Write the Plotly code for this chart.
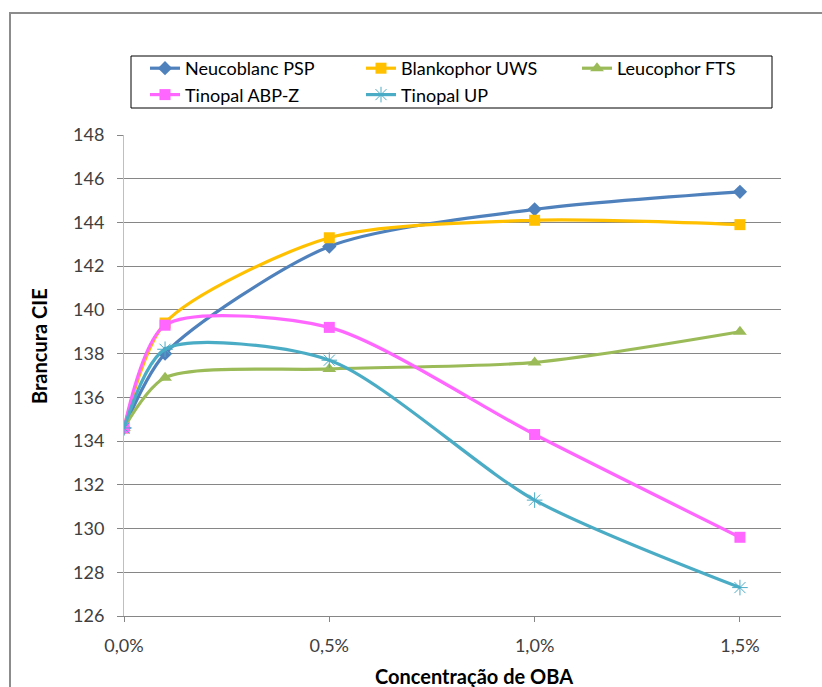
import plotly.graph_objects as go

x_conc = [0.0, 0.1, 0.5, 1.0, 1.5]
neucoblanc_psp = [134.6, 138.0, 142.9, 144.6, 145.4]
blankophor_uws = [134.6, 139.4, 143.3, 144.1, 143.9]
leucophor_fts = [134.6, 136.9, 137.3, 137.6, 139.0]
tinopal_abpz = [134.6, 139.3, 139.2, 134.3, 129.6]
tinopal_up = [134.6, 138.2, 137.7, 131.3, 127.3]

x_tickvals = [0.0, 0.5, 1.0, 1.5]
x_ticktext = ["0,0%", "0,5%", "1,0%", "1,5%"]
y_tickvals = list(range(126, 149, 2))

series = [
    ("Neucoblanc PSP", neucoblanc_psp, "#4F81BD", "diamond", 11, 0),
    ("Blankophor UWS", blankophor_uws, "#FFC000", "square", 11, 0),
    ("Leucophor FTS", leucophor_fts, "#9BBB59", "triangle-up", 12, 0),
    ("Tinopal ABP-Z", tinopal_abpz, "#FF66FF", "square", 11, 0),
    ("Tinopal UP", tinopal_up, "#4BACC6", "asterisk-open", 13, 1),
]

fig = go.Figure()
for name, vals, color, sym, size, mlw in series:
    fig.add_trace(go.Scatter(
        x=x_conc, y=vals, name=name, mode="lines+markers",
        line=dict(color=color, width=3.2, shape="spline", smoothing=0.75),
        marker=dict(symbol=sym, size=size, color=color,
                    line=dict(color=color, width=mlw)),
    ))

W, H = 822, 687
L, R, T, B = 124, 41, 135, 71
pw = W - L - R
ph = H - T - B

def px(p):
    return (p - L) / pw

def py(p):
    return (H - B - p) / ph

font_family = "Lato, 'Open Sans', sans-serif"

fig.update_layout(
    width=W, height=H,
    margin=dict(l=L, r=R, t=T, b=B, autoexpand=False),
    paper_bgcolor="white", plot_bgcolor="white",
    font=dict(family=font_family, color="#404040", size=15),
    showlegend=True,
    legend=dict(
        orientation="h", x=px(145), y=py(50), xanchor="left", yanchor="top",
        entrywidth=171, entrywidthmode="pixels",
        font=dict(size=18, color="#000000", family=font_family),
        bgcolor="rgba(0,0,0,0)", borderwidth=0, traceorder="normal",
    ),
    xaxis=dict(
        range=[0, 1.6], tickvals=x_tickvals, ticktext=x_ticktext,
        showgrid=False, zeroline=False, showline=True, linecolor="#868686", linewidth=1,
        ticks="outside", ticklen=5, tickcolor="#868686", ticklabelstandoff=8,
        tickfont=dict(size=18, color="#404040"),
    ),
    yaxis=dict(
        range=[126, 148], tickvals=y_tickvals,
        showgrid=True, gridcolor="#868686", gridwidth=1, zeroline=False,
        showline=True, linecolor="#BFBFBF", linewidth=1,
        ticks="outside", ticklen=6, tickcolor="#868686", ticklabelstandoff=9,
        tickfont=dict(size=18, color="#404040"),
    ),
    shapes=[
        dict(type="rect", xref="paper", yref="paper",
             x0=px(10), x1=px(900), y0=py(760), y1=py(13),
             line=dict(color="#8C8C8C", width=2), fillcolor="rgba(0,0,0,0)", layer="below"),
        dict(type="rect", xref="paper", yref="paper",
             x0=px(131), x1=px(772), y0=py(108), y1=py(56),
             line=dict(color="#000000", width=1), fillcolor="rgba(0,0,0,0)"),
    ],
    annotations=[
        dict(text="<b>Concentração de OBA</b>", xref="paper", yref="paper",
             x=px(474), y=py(676), xanchor="center", yanchor="middle", showarrow=False,
             font=dict(size=20, color="#000000", family=font_family)),
        dict(text="<b>Brancura CIE</b>", xref="paper", yref="paper",
             x=px(39), y=py(346), xanchor="center", yanchor="middle", showarrow=False,
             textangle=-90, font=dict(size=20, color="#000000", family=font_family)),
    ],
)

fig.write_html("out.html")
